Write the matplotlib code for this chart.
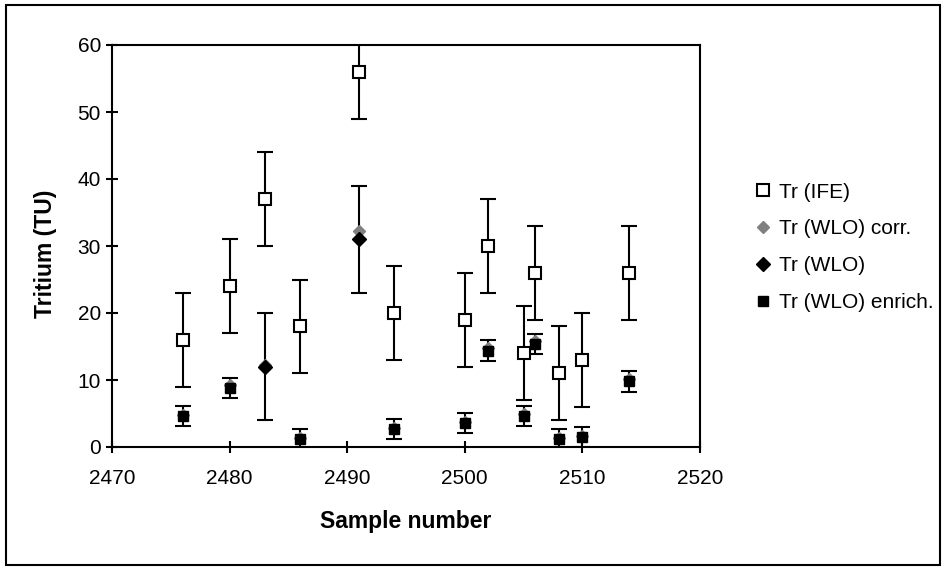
import matplotlib.pyplot as plt
import numpy as np
from matplotlib.patches import Rectangle

plt.rcParams['font.family'] = ['Liberation Sans', 'DejaVu Sans']

# Tr (IFE)
ife_x = [2476, 2480, 2483, 2486, 2491, 2494, 2500, 2502, 2505, 2506, 2508, 2510, 2514]
ife_y = [16, 24, 37, 18, 56, 20, 19, 30, 14, 26, 11, 13, 26]
ife_err = [7, 7, 7, 7, 7, 7, 7, 7, 7, 7, 7, 7, 7]

# Tr (WLO) corr.
corr_x = [2476, 2480, 2483, 2486, 2491, 2494, 2500, 2502, 2505, 2506, 2508, 2510, 2514]
corr_y = [4.8, 9.2, 12.3, 1.4, 32.2, 2.9, 3.8, 14.8, 5.0, 15.8, 1.4, 1.7, 10.1]

# Tr (WLO)
wlo_x = [2483, 2491]
wlo_y = [12, 31]
wlo_err = [8, 8]

# Tr (WLO) enrich.
enr_x = [2476, 2480, 2486, 2494, 2500, 2502, 2505, 2506, 2508, 2510, 2514]
enr_y = [4.6, 8.8, 1.2, 2.7, 3.6, 14.4, 4.6, 15.4, 1.2, 1.5, 9.8]
enr_err = [1.5, 1.5, 1.5, 1.5, 1.5, 1.5, 1.5, 1.5, 1.5, 1.5, 1.6]

fig = plt.figure(figsize=(9.46, 5.68), dpi=100)
ax = fig.add_axes([112/946, 1 - 447/568, (700 - 112)/946, (447 - 45)/568])

ebkw = dict(fmt='none', ecolor='black', elinewidth=1.5, capsize=5.5, capthick=1.5, zorder=2)
ax.errorbar(ife_x, ife_y, yerr=ife_err, **ebkw)
ax.errorbar(wlo_x, wlo_y, yerr=wlo_err, **ebkw)
ax.errorbar(enr_x, enr_y, yerr=enr_err, **ebkw)

ax.plot(ife_x, ife_y, ls='none', marker='s', ms=9, mfc='white', mec='black', mew=1.5,
        label='Tr (IFE)', zorder=3)
ax.plot(corr_x, corr_y, ls='none', marker='D', ms=6.5, mfc='#808080', mec='#808080',
        label='Tr (WLO) corr.', zorder=3)
ax.plot(wlo_x, wlo_y, ls='none', marker='D', ms=7, mfc='black', mec='black',
        label='Tr (WLO)', zorder=4)
ax.plot(enr_x, enr_y, ls='none', marker='s', ms=6.5, mfc='black', mec='black',
        label='Tr (WLO) enrich.', zorder=5)

ax.set_xlim(2470, 2520)
ax.set_ylim(0, 60)
ax.set_xticks(np.arange(2470, 2521, 10))
ax.set_yticks(np.arange(0, 61, 10))
ax.tick_params(direction='inout', length=8, width=1.5, labelsize=15, pad=12)
ax.tick_params(axis='y', pad=4)
for s in ax.spines.values():
    s.set_linewidth(1.5)

ax.set_xlabel('Sample number', fontsize=16.5, fontweight='bold', labelpad=16)
ax.set_ylabel('Tritium (TU)', fontsize=16.5, fontweight='bold')
ax.yaxis.set_label_coords(-0.094, 0.48)

leg = ax.legend(loc='upper left', bbox_to_anchor=(736/946, 1 - 164/568),
                bbox_transform=fig.transFigure, frameon=False, fontsize=15,
                handlelength=0.8, handletextpad=0.35, labelspacing=0.85)

fig.patches.append(Rectangle((6/946, 1 - 565/568), 934/946, 560/568,
                             transform=fig.transFigure, fill=False,
                             edgecolor='black', linewidth=1.5))

fig.savefig('out.png', dpi=100)
